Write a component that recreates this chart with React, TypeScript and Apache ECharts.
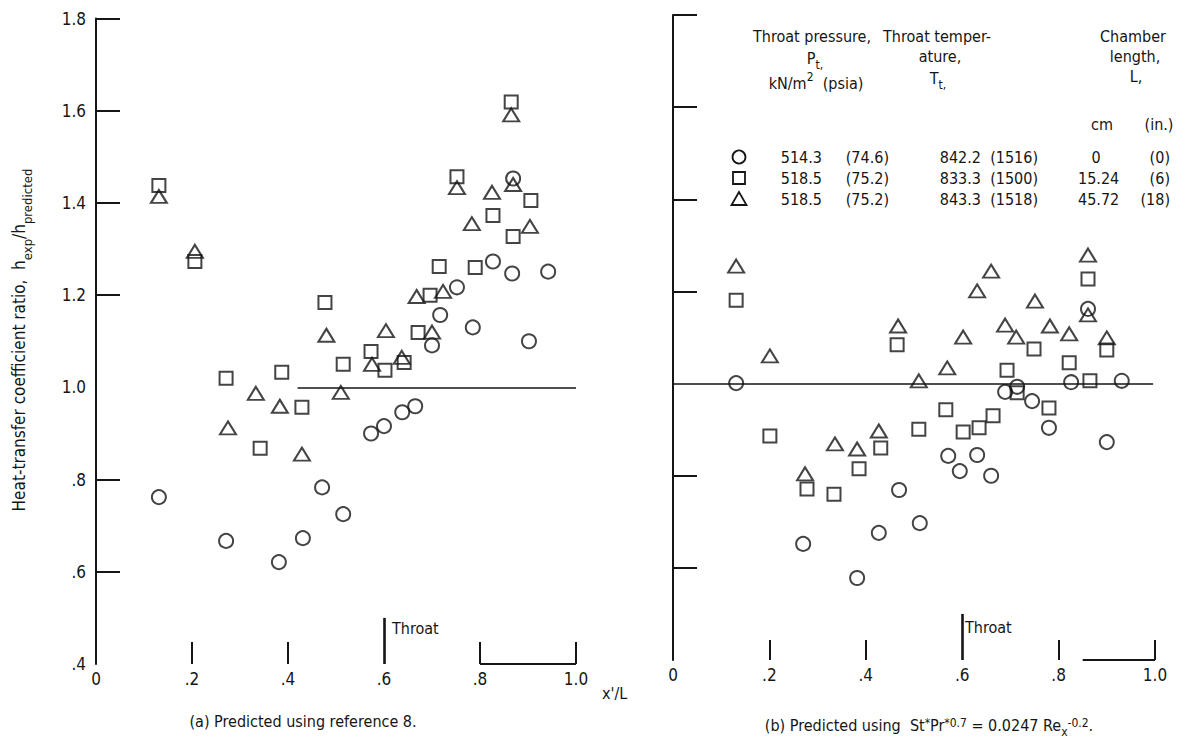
import React, { useEffect, useRef } from "react";
import * as echarts from "echarts";

// ---------- data ----------
const xLabelValues = [0, 0.2, 0.4, 0.6, 0.8, 1.0];
const yLabelValues = [0.4, 0.6, 0.8, 1.0, 1.2, 1.4, 1.6, 1.8];
const yTickValues = [0.6, 0.8, 1.2, 1.4, 1.6, 1.8];
const xTickValues = [0.2, 0.4, 0.8, 1.0];

// (a) Predicted using reference 8
const leftCircles = [
  [0.131, 0.762], [0.271, 0.667], [0.381, 0.621], [0.431, 0.673], [0.471, 0.783],
  [0.515, 0.725], [0.573, 0.9], [0.6, 0.916], [0.638, 0.946], [0.665, 0.959],
  [0.7, 1.091], [0.717, 1.157], [0.752, 1.217], [0.785, 1.13], [0.827, 1.273],
  [0.867, 1.247], [0.869, 1.453], [0.902, 1.1], [0.942, 1.251],
];
const leftSquares = [
  [0.131, 1.438], [0.206, 1.273], [0.271, 1.02], [0.342, 0.868], [0.387, 1.033],
  [0.429, 0.957], [0.477, 1.184], [0.515, 1.05], [0.573, 1.078], [0.602, 1.037],
  [0.642, 1.054], [0.671, 1.119], [0.696, 1.2], [0.715, 1.262], [0.752, 1.457],
  [0.79, 1.26], [0.827, 1.373], [0.865, 1.619], [0.869, 1.327], [0.906, 1.405],
];
const leftTriangles = [
  [0.131, 1.414], [0.206, 1.295], [0.275, 0.912], [0.333, 0.987], [0.383, 0.959],
  [0.429, 0.855], [0.48, 1.113], [0.51, 0.989], [0.575, 1.05], [0.604, 1.123],
  [0.637, 1.065], [0.668, 1.197], [0.7, 1.12], [0.723, 1.208], [0.752, 1.433],
  [0.783, 1.355], [0.825, 1.423], [0.865, 1.591], [0.869, 1.44], [0.904, 1.349],
];

// (b) Predicted using St*Pr*^0.7 = 0.0247 Re_x^-0.2
const rightCircles = [
  [0.131, 1.001], [0.27, 0.652], [0.382, 0.578], [0.427, 0.676], [0.469, 0.769],
  [0.512, 0.697], [0.571, 0.843], [0.595, 0.81], [0.631, 0.845], [0.66, 0.8],
  [0.689, 0.982], [0.714, 0.993], [0.745, 0.962], [0.78, 0.904], [0.826, 1.003],
  [0.861, 1.162], [0.9, 0.873], [0.931, 1.006],
];
const rightSquares = [
  [0.131, 1.181], [0.201, 0.886], [0.278, 0.771], [0.334, 0.76], [0.386, 0.815],
  [0.431, 0.86], [0.465, 1.084], [0.51, 0.901], [0.566, 0.943], [0.602, 0.895],
  [0.635, 0.904], [0.664, 0.93], [0.693, 1.029], [0.714, 0.98], [0.749, 1.075],
  [0.78, 0.947], [0.822, 1.045], [0.861, 1.227], [0.865, 1.006], [0.9, 1.073],
];
const rightTriangles = [
  [0.131, 1.255], [0.201, 1.06], [0.274, 0.804], [0.336, 0.869], [0.382, 0.858],
  [0.427, 0.897], [0.467, 1.125], [0.51, 1.006], [0.569, 1.034], [0.602, 1.101],
  [0.631, 1.201], [0.66, 1.244], [0.689, 1.127], [0.712, 1.101], [0.751, 1.179],
  [0.782, 1.125], [0.822, 1.108], [0.861, 1.279], [0.861, 1.149], [0.9, 1.099],
];

// legend table values
const pressureKn = ["514.3", "518.5", "518.5"];
const pressurePsia = ["(74.6)", "(75.2)", "(75.2)"];
const temperatureK = ["842.2", "833.3", "843.3"];
const temperatureR = ["(1516)", "(1500)", "(1518)"];
const lengthCm = ["0", "15.24", "45.72"];
const lengthIn = ["(0)", "(6)", "(18)"];

// ---------- styles ----------
const FONT = '"DejaVu Sans Condensed","Liberation Sans Narrow","Roboto Condensed","DejaVu Sans",sans-serif';
const INK = "#151515";
const FS = 16;
const TICK_FS = 17;

const fmt = (v: number) => {
  if (Math.abs(v) < 1e-9) return "0";
  if (v >= 0.999) return v.toFixed(1);
  return v.toFixed(1).replace(/^0/, "");
};

const rich = {
  n: { fontSize: FS, fontFamily: FONT, color: INK, lineHeight: 16, verticalAlign: "top" as const },
  b: { fontSize: 12, fontFamily: FONT, color: INK, lineHeight: 10, padding: [9, 0, 0, 0], verticalAlign: "top" as const },
  p: { fontSize: 12, fontFamily: FONT, color: INK, lineHeight: 10, padding: [0, 0, 0, 0], verticalAlign: "top" as const },
  m: { fontSize: FS, fontFamily: FONT, color: INK, lineHeight: 16, padding: [4, 0, 0, 0], verticalAlign: "top" as const },
  N: { fontSize: 17, fontFamily: FONT, color: INK, lineHeight: 20, verticalAlign: "top" as const },
  B: { fontSize: 13, fontFamily: FONT, color: INK, lineHeight: 13, padding: [11, 0, 0, 0], verticalAlign: "top" as const },
};

function scatter(data: number[][], symbol: string, size: any, gi: number, extra: any = {}) {
  return {
    type: "scatter",
    data,
    symbol,
    symbolSize: size,
    xAxisIndex: gi,
    yAxisIndex: gi,
    silent: true,
    itemStyle: { color: "rgba(255,255,255,0)", borderColor: INK, borderWidth: 2 },
    emphasis: { disabled: true },
    z: 3,
    ...extra,
  };
}

function axes(gi: number, showYLabels: boolean, xTickLen: number) {
  const x = {
    type: "value",
    gridIndex: gi,
    min: 0,
    max: 1,
    interval: 0.2,
    axisLine: { show: false, onZero: false },
    splitLine: { show: false },
    axisTick: { show: true, inside: true, length: xTickLen, customValues: xTickValues, lineStyle: { color: INK, width: 2 } },
    axisLabel: { customValues: xLabelValues, formatter: fmt, margin: 6, fontSize: TICK_FS, fontFamily: FONT, color: INK },
  };
  const y = {
    type: "value",
    gridIndex: gi,
    min: 0.4,
    max: 1.8,
    interval: 0.2,
    axisLine: { show: true, onZero: false, lineStyle: { color: INK, width: 2 } },
    splitLine: { show: false },
    axisTick: { show: true, inside: true, length: 24, customValues: yTickValues, lineStyle: { color: INK, width: 2 } },
    axisLabel: { show: showYLabels, customValues: yLabelValues, formatter: fmt, margin: 10, fontSize: TICK_FS, fontFamily: FONT, color: INK },
  };
  return { x, y };
}

function txt(text: string, x: number, y: number, align = "left", extra: any = {}) {
  return {
    type: "text",
    x,
    y,
    silent: true,
    style: { text, fill: INK, fontSize: FS, fontFamily: FONT, align, verticalAlign: "middle", rich, ...extra },
  };
}

export default function App() {
  const ref = useRef<HTMLDivElement>(null);
  useEffect(() => {
    if (!ref.current) return;
    const chart = echarts.init(ref.current, undefined, { renderer: "svg" });
    const a = axes(0, true, 22);
    const b = axes(1, false, 20);

    const lineStyle = { color: INK, width: 1.5, type: "solid" };
    const leftMarks = {
      silent: true,
      symbol: ["none", "none"],
      label: { show: false },
      lineStyle,
      data: [
        [{ coord: [0.42, 1.0] }, { coord: [1.0, 1.0] }],
        [{ coord: [0.6, 0.4], lineStyle: { color: INK, width: 2.6 } }, { coord: [0.6, 0.5] }],
        [{ coord: [0.8, 0.4], lineStyle: { color: INK, width: 2 } }, { coord: [1.0, 0.4] }],
      ],
    };
    const rightMarks = {
      silent: true,
      symbol: ["none", "none"],
      label: { show: false },
      lineStyle,
      data: [
        [{ coord: [0, 1.0] }, { coord: [0.996, 1.0] }],
        [{ coord: [0.6, 0.4], lineStyle: { color: INK, width: 2.6 } }, { coord: [0.6, 0.5] }],
        [{ coord: [0.85, 0.4], lineStyle: { color: INK, width: 2 } }, { coord: [1.0, 0.4] }],
      ],
    };

    const rowsY = [157, 178, 199];
    const legendGraphics: any[] = [];
    // headers
    legendGraphics.push(txt("Throat pressure,", 812, 36, "center"));
    legendGraphics.push(txt("Throat temper-", 937, 36, "center"));
    legendGraphics.push(txt("Chamber", 1133, 36, "center"));
    legendGraphics.push(txt("{n|P}{b|t,}", 815, 58, "center"));
    legendGraphics.push(txt("ature,", 940, 56, "center"));
    legendGraphics.push(txt("length,", 1135, 56, "center"));
    legendGraphics.push(txt("{m|kN/m}{p|2}{m|  (psia)}", 816, 79, "center"));
    legendGraphics.push(txt("{n|T}{b|t,}", 938, 78, "center"));
    legendGraphics.push(txt("L,", 1136, 76, "center"));
    legendGraphics.push(txt("cm", 1102, 124, "center"));
    legendGraphics.push(txt("(in.)", 1159, 124, "center"));
    rowsY.forEach((y, i) => {
      legendGraphics.push(txt(pressureKn[i], 822, y, "right"));
      legendGraphics.push(txt(pressurePsia[i], 889, y, "right"));
      legendGraphics.push(txt(temperatureK[i], 981, y, "right"));
      legendGraphics.push(txt(temperatureR[i], 1038, y, "right"));
      if (i === 0) legendGraphics.push(txt(lengthCm[i], 1096, y, "center"));
      else legendGraphics.push(txt(lengthCm[i], 1078, y, "left"));
      legendGraphics.push(txt(lengthIn[i], 1170, y, "right"));
    });
    const symStyle = { fill: "none", stroke: INK, lineWidth: 1.8 };
    legendGraphics.push({ type: "circle", silent: true, shape: { cx: 739, cy: rowsY[0], r: 6.5 }, style: symStyle });
    legendGraphics.push({ type: "rect", silent: true, shape: { x: 733, y: rowsY[1] - 6, width: 12, height: 12 }, style: symStyle });
    legendGraphics.push({
      type: "polygon",
      silent: true,
      shape: { points: [[739, rowsY[2] - 7], [731.5, rowsY[2] + 6], [746.5, rowsY[2] + 6]] },
      style: symStyle,
    });

    const option: any = {
      animation: false,
      backgroundColor: "#ffffff",
      grid: [
        { left: 96, top: 18.5, width: 480, height: 645.5 },
        { left: 673, top: 15, width: 482, height: 645 },
      ],
      xAxis: [a.x, b.x],
      yAxis: [a.y, b.y],
      series: [
        scatter(leftCircles, "circle", 14, 0, { markLine: leftMarks }),
        scatter(leftSquares, "rect", 13, 0),
        scatter(leftTriangles, "triangle", [16, 13], 0),
        scatter(rightCircles, "circle", 14, 1, { markLine: rightMarks }),
        scatter(rightSquares, "rect", 13, 1),
        scatter(rightTriangles, "triangle", [16, 13], 1),
      ],
      graphic: [
        {
          type: "text",
          x: 20,
          y: 340,
          rotation: Math.PI / 2,
          silent: true,
          style: {
            text: "{N|Heat-transfer coefficient ratio,  h}{B|exp}{N|/h}{B|predicted}",
            rich,
            align: "center",
            verticalAlign: "middle",
            fill: INK,
          },
        },
        txt("Throat", 392, 628, "left"),
        txt("Throat", 965, 627, "left"),
        txt("x'/L", 602, 693, "left"),
        txt("(a) Predicted using reference 8.", 303, 721, "center"),
        txt(
          "{n|(b) Predicted using  St}{p|*}{n|Pr}{p|*0.7}{n| = 0.0247 Re}{b|x}{p|-0.2}{n|.}",
          929,
          725,
          "center"
        ),
        ...legendGraphics,
      ],
    };
    chart.setOption(option);
    return () => chart.dispose();
  }, []);
  return (
    <div
      ref={ref}
      style={{ position: "absolute", left: 0, top: 0, width: 1181, height: 742, background: "#fff" }}
    />
  );
}
